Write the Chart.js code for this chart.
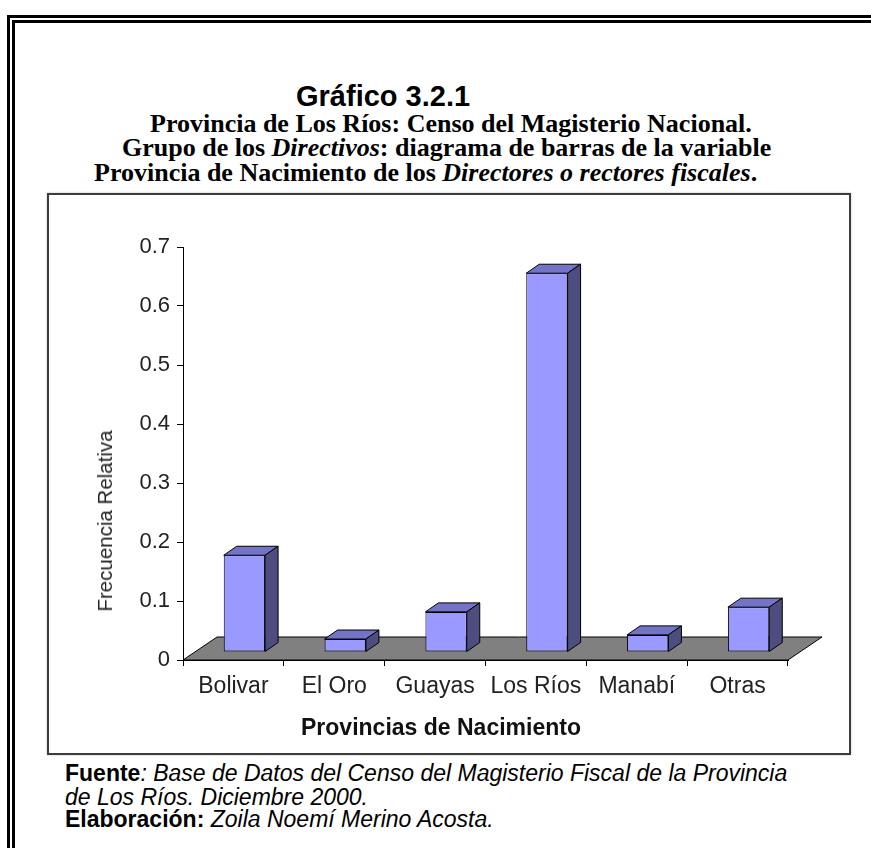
<!DOCTYPE html>
<html lang="es">
<head>
  <meta charset="UTF-8" />
  <title>Gráfico 3.2.1</title>
  <script src="https://cdn.jsdelivr.net/npm/chart.js"></script>
  <style>
    body { margin: 0; background: #fff; width: 871px; height: 848px; overflow: hidden; position: relative; }
    #marco { position: absolute; left: 7px; top: 15px; width: 900px; height: 900px; border: 8px double #000; box-sizing: border-box; }
    .t { position: absolute; white-space: nowrap; color: #000; }
    .serif { font-family: "Liberation Serif", serif; font-weight: bold; font-size: 26px; }
    .pie { font-family: "Liberation Sans", Arial, sans-serif; font-size: 23px; font-style: italic; }
    .pie b { font-style: normal; }
    #caja { position: absolute; left: 47px; top: 193px; width: 800px; height: 558px; border: 2px solid #3c3c3c; box-shadow: 0 0 2px #bbb; }
    #chartBox { position: relative; width: 800px; height: 558px; }
    #tituloY { position: absolute; left: 105px; top: 521px; transform: translate(-50%, -50%) rotate(-90deg);
               font-family: "Liberation Sans", Arial, sans-serif; font-size: 20.5px; color: #222; white-space: nowrap; }
    #tituloX { position: absolute; left: 441px; top: 727px; transform: translate(-50%, -50%);
               font-family: "Liberation Sans", Arial, sans-serif; font-size: 23px; font-weight: bold; color: #111; white-space: nowrap; }
  </style>
</head>
<body>
  <div id="marco"></div>

  <!-- Titulos -->
  <div class="t" style="left:296px; top:80px; font-family:'Liberation Sans',Arial,sans-serif; font-weight:bold; font-size:29px;">Gráfico 3.2.1</div>
  <div class="t serif" style="left:150px; top:109px;">Provincia de Los Ríos: Censo del Magisterio Nacional.</div>
  <div class="t serif" style="left:122px; top:133px;">Grupo de los <i>Directivos</i>: diagrama de barras de la variable</div>
  <div class="t serif" style="left:94px; top:158px;">Provincia de Nacimiento de los <i>Directores o rectores fiscales</i>.</div>

  <!-- Grafico -->
  <div id="caja"><div id="chartBox"><canvas id="barras"></canvas></div></div>
  <div id="tituloY">Frecuencia Relativa</div>
  <div id="tituloX">Provincias de Nacimiento</div>

  <!-- Fuente -->
  <div class="t pie" style="left:65px; top:760px;"><b>Fuente</b>: Base de Datos del Censo del Magisterio Fiscal de la Provincia</div>
  <div class="t pie" style="left:65px; top:784px;">de Los Ríos. Diciembre 2000.</div>
  <div class="t pie" style="left:65px; top:806px;"><b>Elaboración:</b> Zoila Noemí Merino Acosta.</div>

  <script>
    const provincias = ["Bolivar", "El Oro", "Guayas", "Los Ríos", "Manabí", "Otras"];
    const frecuencias = [0.164, 0.022, 0.068, 0.642, 0.029, 0.076];
    const yMax = 0.7;
    const yPaso = 0.1;

    // perspectiva del grafico 3D (en px)
    const fondo = { x: 34, y: -23 };
    const desplazo = { x: 11, y: -8 };
    const prof = { x: 13, y: -9 };

    const efecto3d = {
      id: 'efecto3d',
      beforeDatasetsDraw(chart) {
        const { ctx, chartArea: a } = chart;
        const y0 = chart.scales.y.getPixelForValue(0);
        ctx.save();
        ctx.beginPath();
        ctx.moveTo(a.left, y0);
        ctx.lineTo(a.left + fondo.x, y0 + fondo.y);
        ctx.lineTo(a.right + fondo.x, y0 + fondo.y);
        ctx.lineTo(a.right, y0);
        ctx.closePath();
        ctx.fillStyle = '#808080';
        ctx.fill();
        ctx.strokeStyle = '#000';
        ctx.lineWidth = 1;
        ctx.stroke();
        ctx.restore();
        ctx.save();
        ctx.translate(desplazo.x, desplazo.y);
      },
      afterDatasetsDraw(chart) {
        const ctx = chart.ctx;
        ctx.lineWidth = 1;
        ctx.strokeStyle = '#000';
        chart.getDatasetMeta(0).data.forEach(bar => {
          const { x, y, base, width } = bar.getProps(['x', 'y', 'base', 'width'], true);
          const l = x - width / 2, r = x + width / 2;
          ctx.beginPath();
          ctx.moveTo(l, y);
          ctx.lineTo(l + prof.x, y + prof.y);
          ctx.lineTo(r + prof.x, y + prof.y);
          ctx.lineTo(r, y);
          ctx.closePath();
          ctx.fillStyle = '#7373c8';
          ctx.fill();
          ctx.stroke();
          ctx.beginPath();
          ctx.moveTo(r, y);
          ctx.lineTo(r + prof.x, y + prof.y);
          ctx.lineTo(r + prof.x, base + prof.y);
          ctx.lineTo(r, base);
          ctx.closePath();
          ctx.fillStyle = '#4d4d80';
          ctx.fill();
          ctx.stroke();
        });
        ctx.restore();
      }
    };

    new Chart(document.getElementById('barras'), {
      type: 'bar',
      data: {
        labels: provincias,
        datasets: [{
          data: frecuencias,
          backgroundColor: '#9999ff',
          borderColor: '#000',
          borderWidth: 1,
          borderSkipped: false,
          barPercentage: 0.41,
          categoryPercentage: 1
        }]
      },
      options: {
        responsive: true,
        maintainAspectRatio: false,
        animation: false,
        layout: { padding: { left: 40, right: 61, top: 52, bottom: 0 } },
        plugins: { legend: { display: false }, tooltip: { enabled: false } },
        scales: {
          x: {
            afterFit(s) { s.height = 93; },
            grid: { drawOnChartArea: false, tickLength: 6, color: '#000' },
            border: { color: '#000', width: 1 },
            ticks: { color: '#222', padding: 7, font: { family: 'Liberation Sans', size: 23 }, maxRotation: 0 }
          },
          y: {
            min: 0, max: yMax,
            afterFit(s) { s.width = 94; },
            grid: { drawOnChartArea: false, tickLength: 6, color: '#000' },
            border: { color: '#000', width: 1 },
            ticks: {
              stepSize: yPaso, color: '#222', padding: 7,
              font: { family: 'Liberation Sans', size: 22 },
              callback: v => v === 0 ? '0' : v.toFixed(1)
            }
          }
        }
      },
      plugins: [efecto3d]
    });
  </script>
</body>
</html>
